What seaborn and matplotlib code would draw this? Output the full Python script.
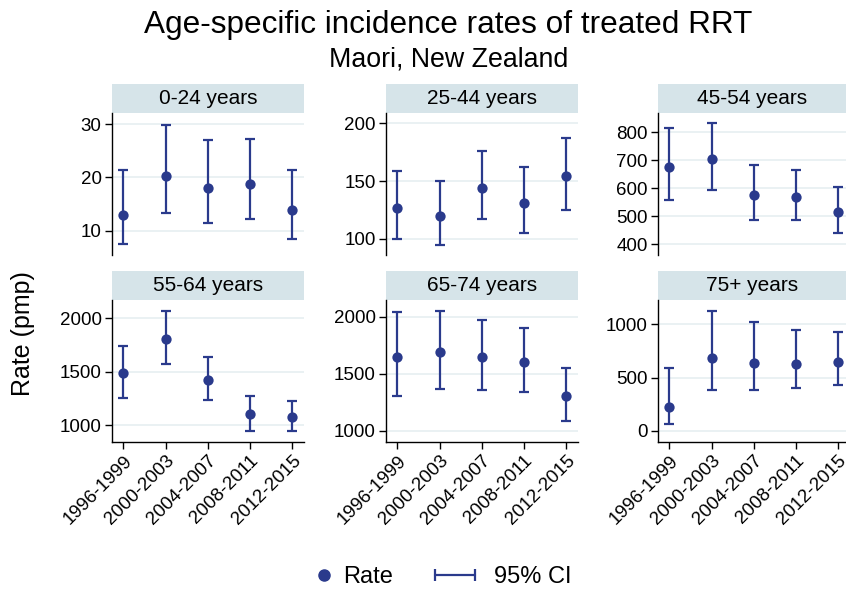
import numpy as np
import pandas as pd
import seaborn as sns
import matplotlib.pyplot as plt
from matplotlib.lines import Line2D
from matplotlib.patches import Rectangle

# Data
periods = ["1996-1999", "2000-2003", "2004-2007", "2008-2011", "2012-2015"]
age_groups = ["0-24 years", "25-44 years", "45-54 years",
              "55-64 years", "65-74 years", "75+ years"]

rate_0_24 = [13.0, 20.3, 18.0, 18.7, 13.9]
low_0_24 = [7.4, 13.3, 11.5, 12.1, 8.4]
high_0_24 = [21.3, 29.8, 27.0, 27.3, 21.4]

rate_25_44 = [127, 120, 144, 131, 154]
low_25_44 = [100, 95, 117, 105, 125]
high_25_44 = [159, 150, 176, 162, 187]

rate_45_54 = [677, 704, 577, 569, 517]
low_45_54 = [557, 594, 486, 485, 439]
high_45_54 = [814, 831, 681, 664, 603]

rate_55_64 = [1487, 1809, 1428, 1106, 1081]
low_55_64 = [1259, 1569, 1234, 950, 944]
high_55_64 = [1744, 2072, 1641, 1272, 1231]

rate_65_74 = [1643, 1687, 1643, 1599, 1307]
low_65_74 = [1304, 1371, 1357, 1345, 1091]
high_65_74 = [2044, 2053, 1968, 1898, 1547]

rate_75 = [228, 684, 638, 631, 644]
low_75 = [66, 381, 381, 403, 431]
high_75 = [591, 1122, 1016, 947, 922]

rates = [rate_0_24, rate_25_44, rate_45_54, rate_55_64, rate_65_74, rate_75]
lows = [low_0_24, low_25_44, low_45_54, low_55_64, low_65_74, low_75]
highs = [high_0_24, high_25_44, high_45_54, high_55_64, high_65_74, high_75]

yticks = [[10, 20, 30], [100, 150, 200], [400, 500, 600, 700, 800],
          [1000, 1500, 2000], [1000, 1500, 2000], [0, 500, 1000]]
ylims = [(5.4, 32.1), (86, 209), (362, 868),
         (844, 2172), (903, 2146), (-103, 1225)]

# long table
rows = []
for g, r, lo, hi in zip(age_groups, rates, lows, highs):
    for i, p in enumerate(periods):
        rows.append({"age": g, "period": p, "x": i, "rate": r[i], "lo": lo[i], "hi": hi[i]})
df = pd.DataFrame(rows)

sns.set_style("white")
plt.rcParams["font.family"] = ["Liberation Sans", "DejaVu Sans"]
plt.rcParams["text.color"] = "black"
plt.rcParams["xtick.color"] = "black"
plt.rcParams["ytick.color"] = "black"

navy = "#2a3a8c"
strip = "#d6e4e9"
gridc = "#e6eff1"

fig = plt.figure(figsize=(8.46, 5.92), dpi=100)

lefts = [112 / 846, 386 / 846, 658 / 846]
widths = [192 / 846, 192 / 846, 188 / 846]
bottoms = [1 - 255 / 592, 1 - 442 / 592]
height = 142 / 592

for k, g in enumerate(age_groups):
    r, c = divmod(k, 3)
    ax = fig.add_axes([lefts[c], bottoms[r], widths[c], height])
    d = df[df["age"] == g]
    ax.errorbar(d["x"], d["rate"], yerr=[d["rate"] - d["lo"], d["hi"] - d["rate"]],
                fmt="none", ecolor=navy, elinewidth=1.6, capsize=3.8, capthick=1.6, zorder=2)
    sns.scatterplot(data=d, x="x", y="rate", ax=ax, color=navy, s=55,
                    edgecolor=navy, linewidth=0, zorder=3, legend=False)
    ax.set_xlim(-0.27, 4.28 if c < 2 else 4.19)
    ax.set_ylim(*ylims[k])
    ax.set_yticks(yticks[k])
    ax.yaxis.grid(True, color=gridc, linewidth=1.2)
    ax.set_axisbelow(True)
    ax.set_xlabel("")
    ax.set_ylabel("")
    for s in ["top", "right"]:
        ax.spines[s].set_visible(False)
    ax.spines["left"].set_color("black")
    ax.spines["left"].set_linewidth(1)
    ax.tick_params(axis="y", direction="out", length=5, width=1, color="black",
                   labelsize=13.5, left=True, pad=2.5)
    if r == 0:
        ax.spines["bottom"].set_visible(False)
        ax.set_xticks([])
    else:
        ax.spines["bottom"].set_color("black")
        ax.spines["bottom"].set_linewidth(1)
        ax.set_xticks(range(len(periods)))
        ax.set_xticklabels(periods, rotation=45, ha="right", rotation_mode="anchor")
        ax.tick_params(axis="x", direction="out", length=5, width=1, color="black",
                       labelsize=13.5, bottom=True, pad=2.5)
    # strip header
    sh = 29 / 142
    ax.add_patch(Rectangle((0, 1), 1, sh, transform=ax.transAxes, facecolor=strip,
                           edgecolor="none", clip_on=False))
    ax.text(0.5, 1 + sh / 2, g, transform=ax.transAxes, ha="center", va="center",
            fontsize=15, color="black")

fig.text(0.53, 1 - 33 / 592, "Age-specific incidence rates of treated RRT",
         ha="center", va="baseline", fontsize=22.7)
fig.text(0.53, 1 - 67 / 592, "Maori, New Zealand", ha="center", va="baseline", fontsize=19.3)
fig.text(0.027, 1 - 334 / 592, "Rate (pmp)", rotation=90, ha="center", va="center", fontsize=18)

h_rate = Line2D([], [], color=navy, marker="o", linestyle="none", markersize=8)
h_ci = Line2D([], [], color=navy, marker="|", linewidth=1.6, markersize=9, markeredgewidth=1.6)
leg1 = fig.legend([h_rate], ["Rate"], loc="center", bbox_to_anchor=(0.42, 1 - 577 / 592),
                  frameon=False, fontsize=17, numpoints=1, handlelength=0.6, handletextpad=0.5)
fig.legend([h_ci], ["95% CI"], loc="center", bbox_to_anchor=(0.591, 1 - 577 / 592),
           frameon=False, fontsize=17, numpoints=2, handlelength=2.3, handletextpad=0.5)

fig.savefig("out.png", dpi=100)
